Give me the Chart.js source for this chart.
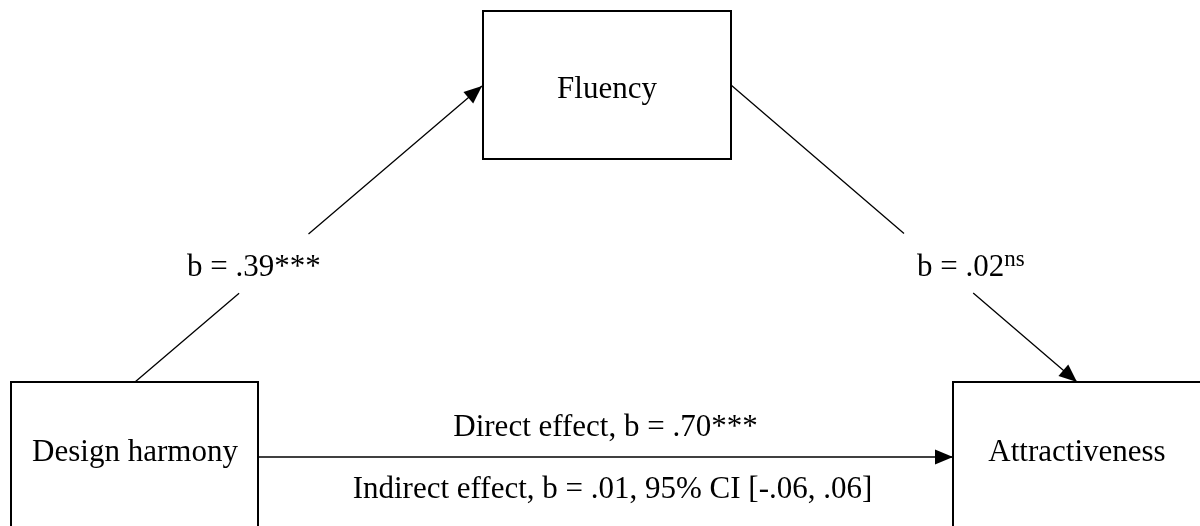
<!DOCTYPE html>
<html>
<head>
<meta charset="utf-8">
<title>Mediation model</title>
<script src="https://cdn.jsdelivr.net/npm/chart.js@4.4.1/dist/chart.umd.min.js"></script>
<style>
  html, body { margin: 0; padding: 0; background: #fff; overflow: hidden; }
  #wrap { width: 1200px; height: 526px; }
</style>
</head>
<body>
<div id="wrap"><canvas id="diagram" width="1200" height="526"></canvas></div>
<script>
// Variables of the model
const nodeNames = ['Design harmony', 'Fluency', 'Attractiveness'];

// Path coefficients: a (X -> M), b (M -> Y), c' (direct X -> Y)
const pathNames = ['a', 'b', 'direct'];
const coefficients = [0.39, 0.02, 0.70];
const significance = ['***', 'ns', '***'];

// Indirect effect and its confidence interval
const indirectEffect = 0.01;
const ciLevel = 95;
const ciBounds = [-0.06, 0.06];

// Layout in diagram units (the hidden scales run 0..1200 and 0..526)
const layout = {
  boxes: [
    { x1: 11, y1: 382, x2: 258, y2: 560, textX: 135, textY: 461 },
    { x1: 483, y1: 11, x2: 731, y2: 159, textX: 607, textY: 98 },
    { x1: 953, y1: 382, x2: 1230, y2: 560, textX: 1077, textY: 461 }
  ],
  paths: [
    { from: [135, 382], to: [482, 86], gap: [0.30, 0.50], labelX: 187, labelY: 276 },
    { from: [731, 85], to: [1077, 382], gap: [0.50, 0.70], labelX: 917, labelY: 276 },
    { from: [258, 457], to: [953, 457], gap: null }
  ],
  directY: 436,
  indirectY: 498
};

const FONT = '"Liberation Serif", "Times New Roman", serif';

function fmt(v) {
  const s = v.toFixed(2);
  return s.replace(/^(-?)0\./, '$1.');
}

function arrowHead(ctx, x1, y1, x2, y2) {
  const ang = Math.atan2(y2 - y1, x2 - x1);
  const len = 18, half = 7.5;
  ctx.beginPath();
  ctx.moveTo(x2, y2);
  ctx.lineTo(x2 - len * Math.cos(ang) + half * Math.sin(ang), y2 - len * Math.sin(ang) - half * Math.cos(ang));
  ctx.lineTo(x2 - len * Math.cos(ang) - half * Math.sin(ang), y2 - len * Math.sin(ang) + half * Math.cos(ang));
  ctx.closePath();
  ctx.fill();
}

const diagramPlugin = {
  id: 'diagram',
  afterDatasetsDraw(chart) {
    const ctx = chart.ctx;
    const sx = chart.scales.x, sy = chart.scales.y;
    const px = v => sx.getPixelForValue(v);
    const py = v => sy.getPixelForValue(v);

    ctx.save();
    ctx.fillStyle = '#000';
    ctx.strokeStyle = '#000';

    // boxes
    layout.boxes.forEach((b, i) => {
      ctx.lineWidth = 2;
      ctx.strokeRect(px(b.x1), py(b.y1), px(b.x2) - px(b.x1), py(b.y2) - py(b.y1));
      ctx.font = '31px ' + FONT;
      ctx.textAlign = 'center';
      ctx.textBaseline = 'alphabetic';
      ctx.fillText(nodeNames[i], px(b.textX), py(b.textY));
    });

    // paths with arrows
    layout.paths.forEach((p, i) => {
      const x1 = px(p.from[0]), y1 = py(p.from[1]);
      const x2 = px(p.to[0]), y2 = py(p.to[1]);
      ctx.lineWidth = i === 2 ? 1.6 : 1.3;
      ctx.beginPath();
      if (p.gap) {
        const a = p.gap[0], b = p.gap[1];
        ctx.moveTo(x1, y1);
        ctx.lineTo(x1 + (x2 - x1) * a, y1 + (y2 - y1) * a);
        ctx.moveTo(x1 + (x2 - x1) * b, y1 + (y2 - y1) * b);
        ctx.lineTo(x2, y2);
      } else {
        ctx.moveTo(x1, y1);
        ctx.lineTo(x2, y2);
      }
      ctx.stroke();
      arrowHead(ctx, x1, y1, x2, y2);
    });

    // coefficient labels on a and b paths
    ctx.textAlign = 'left';
    ctx.textBaseline = 'alphabetic';
    [0, 1].forEach(i => {
      const p = layout.paths[i];
      const main = 'b = ' + fmt(coefficients[i]);
      ctx.font = '31px ' + FONT;
      const lx = px(p.labelX), ly = py(p.labelY);
      ctx.fillText(main, lx, ly);
      const w = ctx.measureText(main).width;
      if (significance[i] === 'ns') {
        ctx.font = '23px ' + FONT;
        ctx.fillText(significance[i], lx + w, ly - 10);
      } else {
        ctx.fillText(significance[i], lx + w, ly);
      }
    });

    // direct and indirect effect labels
    const h = layout.paths[2];
    const midX = (px(h.from[0]) + px(h.to[0])) / 2;
    ctx.font = '31px ' + FONT;
    ctx.textAlign = 'center';
    ctx.fillText('Direct effect, b = ' + fmt(coefficients[2]) + significance[2], midX, py(layout.directY));
    ctx.fillText('Indirect effect, b = ' + fmt(indirectEffect) + ', ' + ciLevel + '% CI [' +
      fmt(ciBounds[0]) + ', ' + fmt(ciBounds[1]) + ']', midX + 7, py(layout.indirectY));

    ctx.restore();
  }
};

document.addEventListener('DOMContentLoaded', function() {
  const ctx = document.getElementById('diagram').getContext('2d');
  new Chart(ctx, {
    type: 'scatter',
    data: {
      datasets: [{
        label: 'nodes',
        data: layout.boxes.map(b => ({ x: b.textX, y: b.textY })),
        pointRadius: 0,
        showLine: false
      }]
    },
    options: {
      responsive: false,
      animation: false,
      devicePixelRatio: 1,
      layout: { padding: 0 },
      plugins: { legend: { display: false }, tooltip: { enabled: false } },
      scales: {
        x: { type: 'linear', min: 0, max: 1200, display: false },
        y: { type: 'linear', min: 0, max: 526, reverse: true, display: false }
      }
    },
    plugins: [diagramPlugin]
  });
});
</script>
</body>
</html>
